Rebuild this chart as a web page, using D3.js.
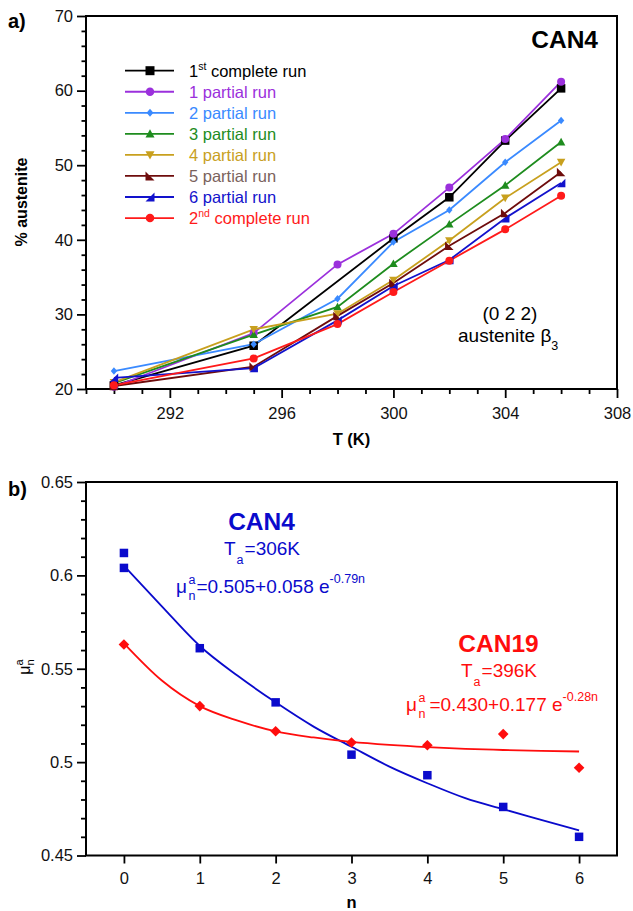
<!DOCTYPE html>
<html><head><meta charset="utf-8">
<script src="https://cdn.jsdelivr.net/npm/d3@7"></script>
<style>body{margin:0;background:#fff} svg text{font-family:"Liberation Sans",Arial,Helvetica,sans-serif}</style>
</head><body><svg id="c" width="633" height="911"></svg>
<script>
// ---------- DATA: panel a ----------
const temps = [290, 295, 298, 300, 302, 304, 306];
const run1st   = [20.5, 25.8, null, 40.2, 45.7, 53.3, 60.3];
const partial1 = [20.3, 27.5, 36.7, 40.8, 47.0, 53.5, 61.2];
const partial2 = [22.4, 26.0, 32.1, 39.7, 44.0, 50.4, 56.0];
const partial3 = [20.8, 27.3, 31.0, 36.8, 42.1, 47.3, 53.1];
const partial4 = [20.9, 28.0, 30.1, 34.6, 39.9, 45.6, 50.4];
const partial5 = [20.4, 23.0, 29.8, 34.2, 39.2, 43.6, 49.1];
const partial6 = [21.5, 22.8, 29.2, 33.8, 37.3, 42.9, 47.6];
const run2nd   = [20.5, 24.1, 28.7, 33.0, 37.2, 41.4, 45.9];
const seriesNames = ["1st complete run","1 partial run","2 partial run","3 partial run","4 partial run","5 partial run","6 partial run","2nd complete run"];
const xTicksA = [292, 296, 300, 304, 308];
const yTicksA = [20, 30, 40, 50, 60, 70];

// ---------- DATA: panel b ----------
const can4N  = [0, 0, 1, 2, 3, 4, 5, 6];
const can4Mu = [0.612, 0.604, 0.561, 0.532, 0.504, 0.493, 0.476, 0.460];
const can19N  = [0, 1, 2, 3, 4, 5, 6];
const can19Mu = [0.563, 0.530, 0.5165, 0.5105, 0.509, 0.515, 0.497];
const fitN     = [0, 0.5, 1, 1.5, 2, 2.5, 3, 3.5, 4, 4.5, 5, 5.5, 6];
const can4Fit  = [0.6052, 0.5834, 0.5622, 0.5462, 0.532, 0.519, 0.5082, 0.4976, 0.4887, 0.4807, 0.4748, 0.4691, 0.4634];
const can19Fit = [0.5636, 0.5437, 0.530, 0.5222, 0.5165, 0.5132, 0.5108, 0.5092, 0.5080, 0.5071, 0.5065, 0.5060, 0.5057];
const xTicksB = [0, 1, 2, 3, 4, 5, 6];
const yTicksB = [0.45, 0.5, 0.55, 0.6, 0.65];

// ---------- styles ----------
const seriesData = [run1st, partial1, partial2, partial3, partial4, partial5, partial6, run2nd];
const lineColors = ["#000000","#9b30dc","#3a8aff","#1e8c1e","#c8a01e","#6e0c0c","#1212cc","#ff1a1a"];
const textColors = ["#000000","#9b30dc","#3a8aff","#1e8c1e","#c8a01e","#7a625c","#1212cc","#ff1a1a"];
const markers = ["square","circle","diamond","triUp","triDown","triBL","triBR","circle"];

function markerPath(t, s){
  const h = s/2;
  switch(t){
    case "square": return `M${-h},${-h}h${s}v${s}h${-s}Z`;
    case "circle": return d3.symbol(d3.symbolCircle, Math.PI*h*h)();
    case "diamond": return `M0,${-h}L${h*0.85},0L0,${h}L${-h*0.85},0Z`;
    case "triUp": return `M0,${-h}L${h},${h*0.8}L${-h},${h*0.8}Z`;
    case "triDown": return `M0,${h}L${h},${-h*0.8}L${-h},${-h*0.8}Z`;
    case "triBL": return `M${-h},${-h}L${h},${h}L${-h},${h}Z`;
    case "triBR": return `M${h},${-h}L${h},${h}L${-h},${h}Z`;
  }
}
const mSize = {square:8.5,circle:8,diamond:7.5,triUp:8.5,triDown:8.5,triBL:8.5,triBR:8.5};

const svg = d3.select("#c");
const FS = 16.5;

function styleAxis(g){
  g.select(".domain").remove();
  g.selectAll(".tick line").attr("stroke","#000").attr("stroke-width",1.8);
  g.selectAll(".tick text").attr("font-size",FS).attr("fill","#111")
    .attr("font-family",'"Liberation Sans",Arial,sans-serif');
}

// ================= PANEL A =================
const L=86, R=617, Ta=16, Ba=389;
const xA = d3.scaleLinear().domain([289,308]).range([L,R]);
const yA = d3.scaleLinear().domain([20,70]).range([Ba,Ta]);

// minor ticks
const gA = svg.append("g");
gA.append("g").attr("transform",`translate(${L},0)`)
  .call(d3.axisLeft(yA).tickValues(d3.range(22,70,2).filter(v=>v%10!==0)).tickSize(4.5).tickFormat(""))
  .call(styleAxis);
gA.append("g").attr("transform",`translate(${L},0)`)
  .call(d3.axisLeft(yA).tickValues(yTicksA).tickSize(9).tickPadding(4).tickFormat(d3.format("d")))
  .call(styleAxis);
gA.append("g").attr("transform",`translate(0,${Ba})`)
  .call(d3.axisBottom(xA).tickValues(d3.range(289,308).filter(v=>!xTicksA.includes(v))).tickSize(5).tickFormat(""))
  .call(styleAxis);
gA.append("g").attr("transform",`translate(0,${Ba})`)
  .call(d3.axisBottom(xA).tickValues(xTicksA).tickSize(9).tickPadding(9).tickFormat(d3.format("d")))
  .call(styleAxis);
gA.append("rect").attr("x",L).attr("y",Ta).attr("width",R-L).attr("height",Ba-Ta)
  .attr("fill","none").attr("stroke","#000").attr("stroke-width",2);

// lines + markers
const lineA = d3.line().defined(d=>d[1]!=null).x(d=>xA(d[0])).y(d=>yA(d[1]));
seriesData.forEach((vals,i)=>{
  const pts = temps.map((t,j)=>[t,vals[j]]).filter(d=>d[1]!=null);
  gA.append("path").datum(pts).attr("d",lineA).attr("fill","none")
    .attr("stroke",lineColors[i]).attr("stroke-width",1.8);
});
seriesData.forEach((vals,i)=>{
  const pts = temps.map((t,j)=>[t,vals[j]]).filter(d=>d[1]!=null);
  gA.selectAll(null).data(pts).enter().append("path")
    .attr("d",markerPath(markers[i],mSize[markers[i]]))
    .attr("transform",d=>`translate(${xA(d[0])},${yA(d[1])})`)
    .attr("fill",lineColors[i]);
});

// legend
const legY0 = 70.7, legDy = 21.05;
seriesNames.forEach((name,i)=>{
  const y = legY0 + i*legDy;
  svg.append("line").attr("x1",125).attr("x2",174).attr("y1",y).attr("y2",y)
    .attr("stroke",lineColors[i]).attr("stroke-width",1.8);
  svg.append("path").attr("d",markerPath(markers[i],mSize[markers[i]]+0.5))
    .attr("transform",`translate(150,${y})`).attr("fill",lineColors[i]);
  const t = svg.append("text").attr("x",189).attr("y",y+6).attr("font-size",FS).attr("fill",textColors[i]);
  const m = name.match(/^(\d)(st|nd) (.*)$/);
  if(m){
    t.append("tspan").text(m[1]);
    t.append("tspan").attr("font-size",10.5).attr("dy",-7).text(m[2]);
    t.append("tspan").attr("dy",7).text(" "+m[3]);
  } else t.text(name);
});

svg.append("text").attr("x",598).attr("y",48).attr("text-anchor","end")
  .attr("font-size",24.5).attr("font-weight","bold").text("CAN4");
svg.append("text").attr("x",510).attr("y",320).attr("text-anchor","middle").attr("font-size",19).text("(0 2 2)");
{
  const t = svg.append("text").attr("x",458).attr("y",341.5).attr("font-size",19);
  t.append("tspan").text("austenite \u03b2");
  t.append("tspan").attr("font-size",12.5).attr("dy",8).text("3");
}
svg.append("text").attr("x",8).attr("y",28).attr("font-size",20).attr("font-weight","bold").text("a)");
svg.append("text").attr("transform","translate(27,202) rotate(-90)").attr("text-anchor","middle")
  .attr("font-size",16).attr("font-weight","bold").text("% austenite");
svg.append("text").attr("x",351.5).attr("y",445).attr("text-anchor","middle")
  .attr("font-size",16.5).attr("font-weight","bold").text("T (K)");

// ================= PANEL B =================
const Tb=482, Bb=855.5;
const xB = d3.scaleLinear().domain([-0.5,6.5]).range([L,R]);
const yB = d3.scaleLinear().domain([0.45,0.65]).range([Bb,Tb]);
const gB = svg.append("g");
const minorB = d3.range(0,21).map(i=>+(0.45+i*0.01).toFixed(2)).filter(v=>!yTicksB.some(t=>Math.abs(t-v)<1e-6));
gB.append("g").attr("transform",`translate(${L},0)`)
  .call(d3.axisLeft(yB).tickValues(minorB).tickSize(5).tickFormat(""))
  .call(styleAxis);
gB.append("g").attr("transform",`translate(${L},0)`)
  .call(d3.axisLeft(yB).tickValues(yTicksB).tickSize(9).tickPadding(4).tickFormat(d=>String(+d.toFixed(2))))
  .call(styleAxis);
gB.append("g").attr("transform",`translate(0,${Bb})`)
  .call(d3.axisBottom(xB).tickValues(xTicksB).tickSize(8).tickPadding(9).tickFormat(d3.format("d")))
  .call(styleAxis);
gB.append("rect").attr("x",L).attr("y",Tb).attr("width",R-L).attr("height",Bb-Tb)
  .attr("fill","none").attr("stroke","#000").attr("stroke-width",2);

const blue = "#0a0acc", red = "#ff0d0d";
const fitLine = d3.line().curve(d3.curveMonotoneX).x(d=>xB(d[0])).y(d=>yB(d[1]));
gB.append("path").datum(fitN.map((n,i)=>[n,can4Fit[i]])).attr("d",fitLine)
  .attr("fill","none").attr("stroke",blue).attr("stroke-width",1.8);
gB.append("path").datum(fitN.map((n,i)=>[n,can19Fit[i]])).attr("d",fitLine)
  .attr("fill","none").attr("stroke",red).attr("stroke-width",1.8);
gB.selectAll(null).data(can4N.map((n,i)=>[n,can4Mu[i]])).enter().append("path")
  .attr("d",markerPath("square",8.5)).attr("transform",d=>`translate(${xB(d[0])},${yB(d[1])})`).attr("fill",blue);
gB.selectAll(null).data(can19N.map((n,i)=>[n,can19Mu[i]])).enter().append("path")
  .attr("d",`M0,-5.3L5.3,0L0,5.3L-5.3,0Z`).attr("transform",d=>`translate(${xB(d[0])},${yB(d[1])})`).attr("fill",red);

// annotations
svg.append("text").attr("x",261.5).attr("y",530).attr("text-anchor","middle")
  .attr("font-size",24.5).attr("font-weight","bold").attr("fill",blue).text("CAN4");
function tLabel(x,y,val,col){
  const t = svg.append("text").attr("x",x).attr("y",y).attr("font-size",19).attr("fill",col);
  t.append("tspan").text("T");
  t.append("tspan").attr("font-size",12.5).attr("dy",9).attr("dx",1).text("a");
  t.append("tspan").attr("dy",-9).attr("dx",1).text("="+val);
}
tLabel(224,555,"306K",blue);
function muLabel(x,y,body,exp,col,gap){
  const t = svg.append("text").attr("x",x).attr("y",y).attr("font-size",19).attr("fill",col);
  t.append("tspan").text("\u03bc");
  t.append("tspan").attr("font-size",12.5).attr("dy",-9).attr("dx",1.5).text("a");
  t.append("tspan").attr("font-size",12.5).attr("dy",16).attr("dx",-6.9).text("n");
  t.append("tspan").attr("dy",-7).attr("dx",gap).text(body);
  t.append("tspan").attr("font-size",12.5).attr("dy",-10).text(exp);
}
muLabel(176,593,"=0.505+0.058 e","-0.79n",blue,1);
svg.append("text").attr("x",498.5).attr("y",652).attr("text-anchor","middle")
  .attr("font-size",24.5).attr("font-weight","bold").attr("fill",red).text("CAN19");
tLabel(461,677,"396K",red);
muLabel(406,711,"=0.430+0.177 e","-0.28n",red,4);

svg.append("text").attr("x",8).attr("y",496).attr("font-size",20).attr("font-weight","bold").text("b)");
{
  const t = svg.append("text").attr("transform","translate(30,667) rotate(-90)").attr("text-anchor","middle").attr("font-size",16);
  t.append("tspan").text("\u03bc");
  t.append("tspan").attr("font-size",11).attr("dy",4).text("n");
  t.append("tspan").attr("font-size",11).attr("dy",-11).attr("dx",-6.1).text("a");
}
svg.append("text").attr("x",351.5).attr("y",908).attr("text-anchor","middle")
  .attr("font-size",16.5).attr("font-weight","bold").text("n");
</script></body></html>
